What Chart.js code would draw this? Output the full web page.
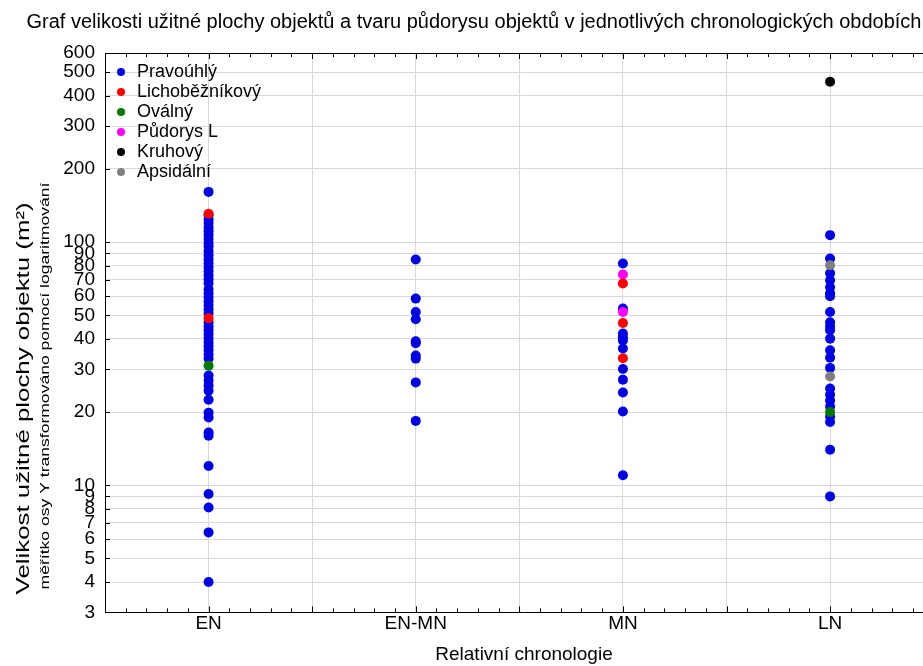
<!DOCTYPE html>
<html>
<head>
<meta charset="utf-8">
<script src="https://cdn.jsdelivr.net/npm/chart.js@4/dist/chart.umd.min.js"></script>
<style>
  html, body { margin: 0; padding: 0; background: #fff; overflow: hidden; }
  #wrap { width: 948px; height: 666px; }
</style>
</head>
<body>
<div id="wrap"><canvas id="myChart"></canvas></div>
<script>
var periods = ["EN", "EN-MN", "MN", "LN"];
var yTicks = [3, 4, 5, 6, 7, 8, 9, 10, 20, 30, 40, 50, 60, 70, 80, 90, 100, 200, 300, 400, 500, 600];

// floor area in m2, one list per period: EN, EN-MN, MN, LN
var pravouhly = [
  [161, 129, 124, 120, 115, 111, 107, 103, 99, 96, 91.8, 88.4, 85.1, 81.9, 78.9, 75.9, 73.1, 70.4, 67.8,
   64, 61.6, 59.3, 57.1, 55, 52.9, 51, 46.8, 45, 43.4, 41.8, 40.2, 38.7, 37.3, 35.9, 34.5, 33.2,
   28.3, 27, 25.7, 24.5, 22.5, 19.9, 19, 16.5, 16, 12, 9.2, 8.1, 6.4, 4],
  [84.9, 58.6, 51.6, 48.2, 39.1, 38.4, 34.2, 33.2, 26.5, 18.4],
  [81.7, 53.3, 42.1, 40.6, 39.4, 36.5, 30.1, 27.2, 24.1, 20.1, 11],
  [106.9, 85.6, 74.5, 69.7, 65.2, 61.6, 59.9, 51.6, 46.8, 45, 43.4, 40.1, 35.9, 33.5, 30.4,
   25, 23.6, 22.3, 21.1, 19.2, 18.2, 14, 9]
];
var lichobeznikovy = [[131, 48.6], [], [67.6, 46.5, 33.3], []];
var ovalny = [[31], [], [], [20]];
var pudorysL = [[], [], [73.6, 51.6], []];
var kruhovy = [[], [], [], [457]];
var apsidalni = [[], [], [], [80.4, 28]];

var FONT = "'Liberation Sans', Arial, sans-serif";

function toPoints(groups) {
  var pts = [];
  groups.forEach(function(vals, i) {
    vals.forEach(function(v) { pts.push({ x: i, y: v }); });
  });
  return pts;
}

function series(label, groups, color, order) {
  return {
    label: label,
    data: toPoints(groups),
    backgroundColor: color,
    borderColor: color,
    borderWidth: 0,
    pointRadius: 5,
    pointHoverRadius: 5,
    order: order
  };
}

// legend drawn inside the plot, top left
var insideLegend = {
  id: "insideLegend",
  afterDatasetsDraw: function(chart) {
    var ctx = chart.ctx, area = chart.chartArea;
    ctx.save();
    ctx.font = "18px " + FONT;
    ctx.textBaseline = "middle";
    ctx.textAlign = "left";
    chart.data.datasets.forEach(function(ds, i) {
      var y = area.top + 19 + i * 20;
      ctx.fillStyle = ds.backgroundColor;
      ctx.beginPath();
      ctx.arc(area.left + 16, y, 4, 0, Math.PI * 2);
      ctx.fill();
      ctx.fillStyle = "#000";
      ctx.fillText(ds.label, area.left + 32, y);
    });
    ctx.restore();
  }
};

// frame: top line, inward tick marks, two-line y title
var frame = {
  id: "frame",
  afterDraw: function(chart) {
    var ctx = chart.ctx, area = chart.chartArea;
    var xs = chart.scales.x, ys = chart.scales.y;
    ctx.save();
    ctx.strokeStyle = "#000";
    ctx.lineWidth = 1;
    ctx.beginPath();
    ctx.moveTo(area.left, area.top + 0.5);
    ctx.lineTo(area.right, area.top + 0.5);
    xs.ticks.forEach(function(t) {
      var px = Math.round(xs.getPixelForValue(t.value)) + 0.5;
      var len = Math.round(t.value * 10) % 5 === 0 ? 6 : 4;
      ctx.moveTo(px, area.bottom);
      ctx.lineTo(px, area.bottom - len);
      ctx.moveTo(px, area.top);
      ctx.lineTo(px, area.top + len);
    });
    ys.ticks.forEach(function(t) {
      var py = Math.round(ys.getPixelForValue(t.value)) + 0.5;
      ctx.moveTo(area.left, py);
      ctx.lineTo(area.left + 5, py);
    });
    ctx.stroke();

    ctx.fillStyle = "#000";
    ctx.textAlign = "left";
    ctx.textBaseline = "middle";
    ctx.save();
    ctx.translate(24, area.bottom - 18);
    ctx.rotate(-Math.PI / 2);
    ctx.scale(1.36, 1);
    ctx.font = "19px " + FONT;
    ctx.fillText("Velikost užitné plochy objektu (m²)", 0, 0);
    ctx.restore();
    ctx.save();
    ctx.translate(45, area.bottom - 23);
    ctx.rotate(-Math.PI / 2);
    ctx.scale(1.35, 1);
    ctx.font = "13px " + FONT;
    ctx.fillText("měřítko osy Y transformováno pomocí logaritmování", 0, 0);
    ctx.restore();
    ctx.restore();
  }
};

document.addEventListener("DOMContentLoaded", function() {
  Chart.defaults.font.family = FONT;
  Chart.defaults.color = "#000";

  var ctx = document.getElementById("myChart");

  var myChart = new Chart(ctx, {
    type: "scatter",
    data: {
      datasets: [
        series("Pravoúhlý", pravouhly, "#0000e6", 1),
        series("Lichoběžníkový", lichobeznikovy, "#ff0000", 0),
        series("Oválný", ovalny, "#007a00", 0),
        series("Půdorys L", pudorysL, "#ff00ff", 0),
        series("Kruhový", kruhovy, "#000000", 0),
        series("Apsidální", apsidalni, "#808080", 0)
      ]
    },
    options: {
      responsive: true,
      maintainAspectRatio: false,
      animation: false,
      layout: { padding: 0 },
      plugins: {
        legend: { display: false },
        tooltip: { enabled: false },
        title: {
          display: true,
          text: "Graf velikosti užitné plochy objektů a tvaru půdorysu objektů v jednotlivých chronologických obdobích",
          font: { size: 20, weight: "normal" },
          color: "#000",
          padding: { top: 10, bottom: 19 }
        }
      },
      scales: {
        x: {
          type: "linear",
          min: -0.5,
          max: 3.545,
          afterBuildTicks: function(scale) {
            var t = [];
            for (var i = -5; i <= 35; i++) t.push({ value: i / 10 });
            scale.ticks = t;
          },
          ticks: {
            autoSkip: false,
            maxRotation: 0,
            padding: 0,
            font: { size: 19 },
            callback: function(value) {
              var i = Math.round(value * 10);
              return i % 10 === 0 ? periods[i / 10] : "";
            }
          },
          grid: {
            drawTicks: false,
            color: function(c) {
              return Math.round(c.tick.value * 10) % 5 === 0 ? "#d9d9d9" : "transparent";
            }
          },
          border: { color: "#000", width: 1 },
          title: {
            display: true,
            text: "Relativní chronologie",
            font: { size: 19 },
            padding: { top: 8, bottom: 0 }
          }
        },
        y: {
          type: "logarithmic",
          min: 3,
          max: 600,
          afterBuildTicks: function(scale) {
            scale.ticks = yTicks.map(function(v) { return { value: v }; });
          },
          afterFit: function(scale) { scale.width = 105; },
          ticks: {
            autoSkip: false,
            padding: 10,
            font: { size: 19 },
            callback: function(value) { return String(value); }
          },
          grid: { drawTicks: false, color: "#d9d9d9" },
          border: { color: "#000", width: 1 }
        }
      }
    },
    plugins: [insideLegend, frame]
  });
});
</script>
</body>
</html>
